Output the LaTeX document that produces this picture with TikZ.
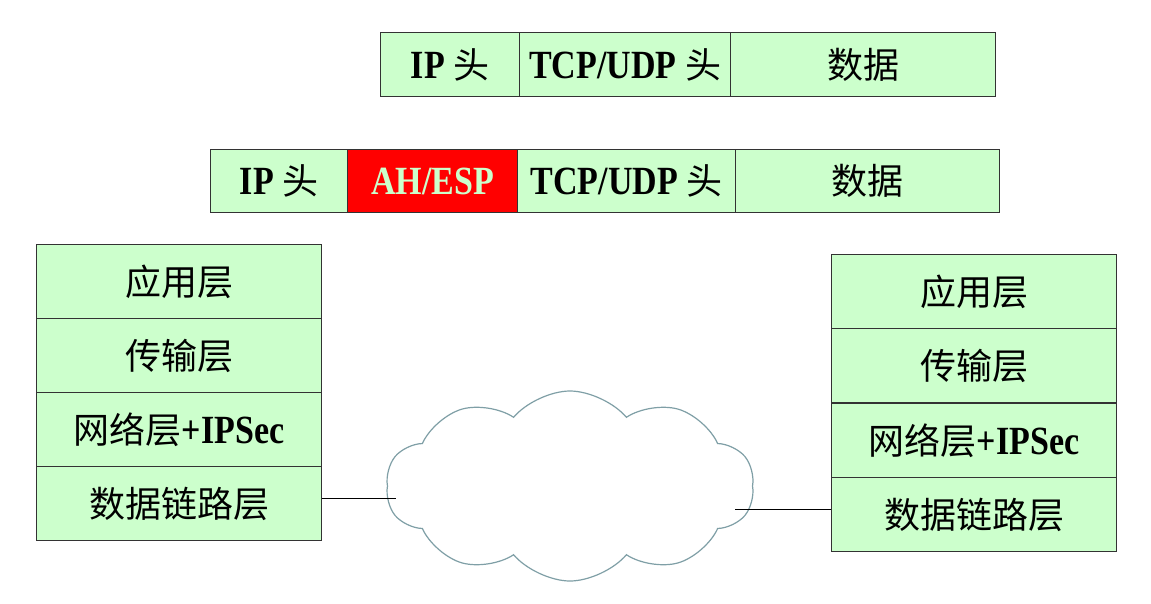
\documentclass[tikz,border=0pt]{standalone}
\usepackage{fontspec}
\setmainfont{Liberation Serif}[FakeStretch=0.85]
\newfontfamily\cjk{Noto Sans CJK SC}
\usetikzlibrary{shapes.symbols}
\definecolor{pale}{HTML}{CCFFCC}
\definecolor{cloudc}{HTML}{7F9FA6}
\definecolor{edgec}{HTML}{333333}
\newcommand{\zhtxt}[1]{{\cjk\mdseries\fontsize{36}{40}\selectfont #1}}
\tikzset{
  cell/.style={draw=edgec, line width=1.3pt, fill=pale, anchor=north west, inner sep=0pt,
    font=\bfseries\fontsize{40}{44}\selectfont, text=black},
  redcell/.style={cell, fill=red, text=pale},
  conn/.style={draw=black, line width=1pt},
}
\begin{document}
\begin{tikzpicture}[x=1pt,y=-1pt]
\useasboundingbox (0,0) rectangle (1151,603);
% top packet
\node[cell, minimum width=139, minimum height=64] (ipa) at (380,32) {IP \zhtxt{头}};
\node[cell, minimum width=211, minimum height=64] (tcpa) at (519,32) {TCP/UDP \zhtxt{头}};
\node[cell, minimum width=265, minimum height=64] (dataa) at (730,32) {\zhtxt{数据}};
% IPSec packet
\node[cell, minimum width=137, minimum height=63] (ipb) at (210,149) {IP \zhtxt{头}};
\node[redcell, minimum width=170, minimum height=63] (ah) at (347,149) {AH/ESP};
\node[cell, minimum width=218, minimum height=63] (tcpb) at (517,149) {TCP/UDP \zhtxt{头}};
\node[cell, minimum width=264, minimum height=63] (datab) at (735,149) {\zhtxt{数据}};
% left stack
\node[cell, minimum width=285, minimum height=74] (la) at (36,244) {\zhtxt{应用层}};
\node[cell, minimum width=285, minimum height=74] (lt) at (36,318) {\zhtxt{传输层}};
\node[cell, minimum width=285, minimum height=74] (ln) at (36,392) {\zhtxt{网络层}+IPSec};
\node[cell, minimum width=285, minimum height=74] (ld) at (36,466) {\zhtxt{数据链路层}};
% right stack
\node[cell, minimum width=285, minimum height=74] (ra) at (831,254) {\zhtxt{应用层}};
\node[cell, minimum width=285, minimum height=74] (rt) at (831,328) {\zhtxt{传输层}};
\node[cell, minimum width=285, minimum height=74] (rn) at (831,403) {\zhtxt{网络层}+IPSec};
\node[cell, minimum width=285, minimum height=74] (rd) at (831,477) {\zhtxt{数据链路层}};
% cloud
\node[cloud, draw=cloudc, line width=1.2pt, fill=white, cloud puffs=10, cloud puff arc=100,
  minimum width=368, minimum height=190, inner sep=0pt] (net) at (570,486) {};
% links
\coordinate (cl) at (396,498);
\coordinate (cr) at (735,509);
\draw[conn] (ld.east |- cl) -- (cl);
\draw[conn] (cr) -- (cr -| rd.west);
\end{tikzpicture}
\end{document}
